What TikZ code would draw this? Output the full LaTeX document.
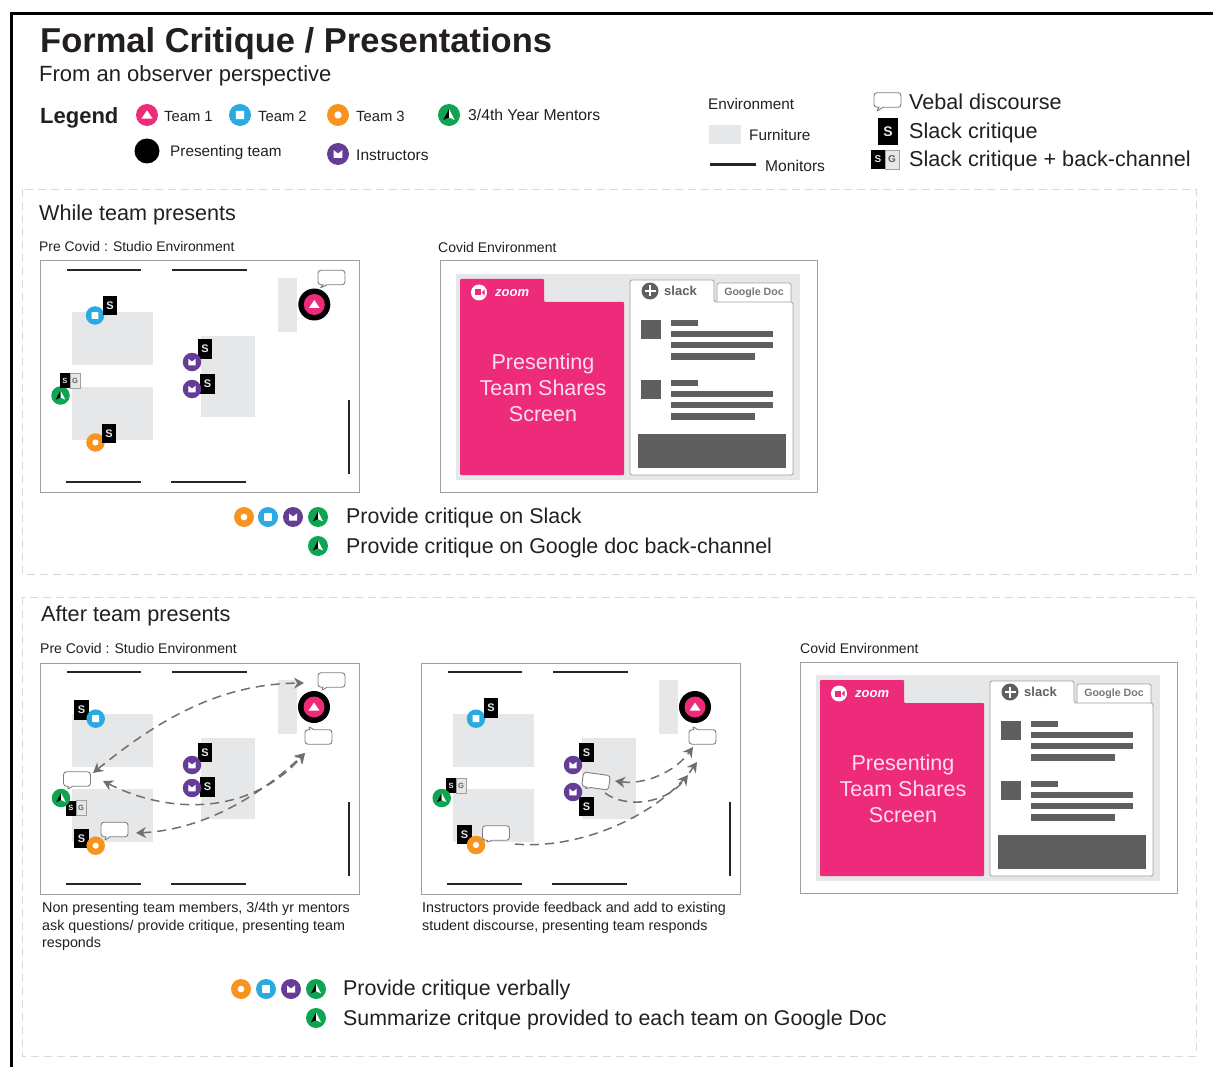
\documentclass[tikz,border=0pt]{standalone}
\usepackage{fontspec}
\setmainfont{Liberation Sans}
\usetikzlibrary{arrows.meta,shapes.callouts}
\definecolor{inkText}{HTML}{231F20}
\definecolor{zoomPink}{HTML}{EE2A7B}
\definecolor{teamBlue}{HTML}{29ABE2}
\definecolor{teamOrange}{HTML}{F7941D}
\definecolor{teamGreen}{HTML}{0DA550}
\definecolor{teamPurple}{HTML}{663D96}
\definecolor{furnGray}{HTML}{E6E7E8}
\definecolor{barGray}{HTML}{5F5F5F}
\definecolor{edgeGray}{HTML}{A0A0A0}
\tikzset{
	txt/.style={anchor=west, inner sep=0pt, text=inkText, font=\fontsize{#1}{#1}\selectfont},
	note/.style={anchor=north west, inner sep=0pt, text=inkText, align=left, font=\fontsize{14.3}{17.6}\selectfont},
	dot/.style={circle, inner sep=0pt, minimum size=#1},
	dot/.default=18pt,
	teamPink/.style={dot=#1, fill=zoomPink, path picture={\fill[white, shift={(path picture bounding box.center)}, x=#1/18, y=-#1/18] (-4.6,3) -- (4.6,3) -- (0,-3.8) -- cycle;}},
	teamPink/.default=18pt,
	teamSquare/.style={dot=#1, fill=teamBlue, path picture={\fill[white, rounded corners=0.5pt, shift={(path picture bounding box.center)}, x=#1/18, y=-#1/18] (-3.4,-3.4) rectangle (3.4,3.4);}},
	teamSquare/.default=18.5pt,
	teamRing/.style={dot=#1, fill=teamOrange, path picture={\fill[white, shift={(path picture bounding box.center)}] (0,0) circle (#1/6);}},
	teamRing/.default=18.5pt,
	teamCrown/.style={dot=#1, fill=teamPurple, path picture={\fill[white, shift={(path picture bounding box.center)}, x=#1/18, y=-#1/18] (-3.6,3.2) -- (3.6,3.2) -- (3.6,-3.2) -- (0,-0.4) -- (-3.6,-3.2) -- cycle;}},
	teamCrown/.default=18.5pt,
	teamArrow/.style={dot=#1, fill=teamGreen, path picture={\fill[black, shift={(path picture bounding box.center)}, x=#1/18, y=-#1/18] (0,-5) -- (-4.6,4) -- (0,2) -- cycle; \fill[white, shift={(path picture bounding box.center)}, x=#1/18, y=-#1/18] (0,-5) -- (4.6,4) -- (0,2) -- cycle;}},
	teamArrow/.default=18.5pt,
	presenter/.style={dot=#1, fill=black},
	slackBox/.style={inner sep=0pt, minimum width=14.5pt, minimum height=19.5pt, fill=black, text=furnGray, font=\bfseries\fontsize{11}{11}\selectfont},
	slackHalf/.style={inner sep=0pt, minimum width=10pt, minimum height=15pt, fill=black, text=furnGray, font=\bfseries\fontsize{7.5}{8}\selectfont},
	docHalf/.style={inner sep=0pt, minimum width=10pt, minimum height=15pt, fill=furnGray, draw=edgeGray, line width=0.5pt, text=barGray, font=\bfseries\fontsize{7.5}{8}\selectfont},
	bubble/.style={rectangle callout, draw=barGray!80, fill=white, line width=0.9pt, rounded corners=3pt, minimum width=27pt, minimum height=14.5pt, inner sep=0pt, callout pointer width=4pt},
	furniture/.style={fill=furnGray},
	monitor/.style={line width=2.8pt, color=black!85},
	roomEdge/.style={draw=edgeGray, line width=1pt},
	panel/.style={draw=black!15, line width=0.8pt, dash pattern=on 8pt off 5pt},
	talkLine/.style={-{Stealth[length=10pt, width=11pt]}, draw=barGray!90, line width=1.5pt, dash pattern=on 9pt off 6pt},
	talkBoth/.style={talkLine, {Stealth[length=10pt, width=11pt]}-{Stealth[length=10pt, width=11pt]}},
	bar/.style={fill=barGray}
}
\newcommand{\roomplan}[2]{
	\begin{scope}[shift={(#1,#2)}]
		\draw[roomEdge] (40,261) rectangle (359,492);
		\fill[furniture] (72,312) rectangle (153,365);
		\fill[furniture] (72,387) rectangle (153,440);
		\fill[furniture] (201,336) rectangle (255,417);
		\fill[furniture] (278,278) rectangle (297,332);
		\draw[monitor] (67,270) -- (141,270);
		\draw[monitor] (172,270) -- (247,270);
		\draw[monitor] (66,482) -- (141,482);
		\draw[monitor] (171,482) -- (246,482);
		\draw[monitor] (349,400) -- (349,474);
	\end{scope}
}
\newcommand{\screenview}[3]{
	\begin{scope}[shift={(#1,#2)}]
		\draw[roomEdge] (440,261) rectangle (817,492);
		\fill[furniture] (456,274) rectangle (800,480);
		\fill[zoomPink, rounded corners=1pt] (460,475) -- (460,279) -- (544,279) -- (544,302) -- (624,302) -- (624,475) -- cycle;
		\node[dot=16pt, fill=white] (#3zoomIcon) at (479,292.5) {};
		\fill[zoomPink] (474.5,289.5) rectangle (481,295.5);
		\fill[zoomPink] (481.5,292.5) -- (484.5,289.5) -- (484.5,295.5) -- cycle;
		\node[txt=13, anchor=west, text=white, font=\bfseries\itshape\fontsize{13}{13}\selectfont] (#3zoomName) at (495,293) {zoom};
		\node[anchor=center, inner sep=0pt, align=center, text=white!85!zoomPink, font=\fontsize{21.5}{26.3}\selectfont] (#3shareText) at (543,388) {Presenting\\Team Shares\\Screen};
		\draw[edgeGray, fill=white, line width=0.9pt, rounded corners=1.5pt] (717,310) -- (717,283) -- (791,283) -- (791,310);
		\node[anchor=center, inner sep=0pt, text=barGray!85, font=\bfseries\fontsize{10.6}{11}\selectfont] (#3docTab) at (754,293) {Google Doc};
		\draw[edgeGray, fill=white, line width=0.9pt, rounded corners=1.5pt] (630,475) -- (630,280) -- (714,280) -- (714,302) -- (793,302) -- (793,475) -- cycle;
		\node[dot=17pt, fill=barGray] (#3slackIcon) at (650,291) {};
		\fill[white] (648.7,285.5) rectangle (651.3,296.5);
		\fill[white] (644.5,289.7) rectangle (655.5,292.3);
		\node[txt=13, text=barGray, font=\bfseries\fontsize{13}{13}\selectfont] (#3slackName) at (664,291) {slack};
		\fill[bar] (641,320) rectangle (661,339);
		\fill[bar] (671,320) rectangle (698,326);
		\fill[bar] (671,331) rectangle (773,337);
		\fill[bar] (671,342) rectangle (773,348);
		\fill[bar] (671,353) rectangle (755,360);
		\fill[bar] (641,380) rectangle (661,399);
		\fill[bar] (671,380) rectangle (698,386);
		\fill[bar] (671,391) rectangle (773,397);
		\fill[bar] (671,402) rectangle (773,408);
		\fill[bar] (671,413) rectangle (755,420);
		\fill[bar] (638,434) rectangle (786,468);
	\end{scope}
}
\begin{document}
\begin{tikzpicture}[x=1pt, y=-1pt]
	\useasboundingbox (0,0) rectangle (1213,1067);
	\fill[white] (0,0) rectangle (1213,1067);
	\draw[black, line width=3pt] (11,1067) -- (11,14) -- (1213,14);
	\draw[panel] (22,189) rectangle (1196,574);
	\draw[panel] (22,597) rectangle (1196,1056);

	\node[txt=34.5, font=\bfseries\fontsize{34.5}{34.5}\selectfont] (titleText) at (40,44) {Formal Critique / Presentations};
	\node[txt=22] (subtitleText) at (39,76) {From an observer perspective};
	\node[txt=22, font=\bfseries\fontsize{22}{22}\selectfont] (legendText) at (40,118) {Legend};

	\node[teamPink=22pt] (legendPink) at (147,115) {};
	\node[txt=14.8] (legendPinkText) at (164,116) {Team 1};
	\node[teamSquare=22pt] (legendBlue) at (240,115) {};
	\node[txt=14.8] (legendBlueText) at (258,116) {Team 2};
	\node[teamRing=22pt] (legendOrange) at (338,115) {};
	\node[txt=14.8] (legendOrangeText) at (356,116) {Team 3};
	\node[teamArrow=22pt] (legendGreen) at (449,115) {};
	\node[txt=15.7] (legendGreenText) at (468,115) {3/4th Year Mentors};
	\node[presenter=25pt] (legendBlack) at (147,151) {};
	\node[txt=15.3] (legendBlackText) at (170,153) {Presenting team};
	\node[teamCrown=22pt] (legendPurple) at (338,154) {};
	\node[txt=15.5] (legendPurpleText) at (356,155) {Instructors};

	\node[txt=15.3] (envText) at (708,104) {Environment};
	\fill[furniture] (709,125) rectangle (741,144);
	\node[txt=15.3] (furnText) at (749,135) {Furniture};
	\draw[monitor, line width=3pt] (710,165) -- (756,165);
	\node[txt=15.6] (monitorText) at (765,166) {Monitors};

	\node[bubble, callout absolute pointer={(876,112)}] (legendBubble) at (887.5,100) {};
	\node[txt=21.6] (bubbleText) at (909,102) {Vebal discourse};
	\node[slackBox, minimum width=20pt, minimum height=27pt, font=\bfseries\fontsize{14}{14}\selectfont] (legendSlack) at (888,131.5) {S};
	\node[txt=21.6] (slackText) at (909,133) {Slack critique};
	\node[slackHalf, minimum width=14pt, minimum height=19pt, font=\bfseries\fontsize{10}{10}\selectfont] (legendS) at (878,159.5) {S};
	\node[docHalf, minimum width=14pt, minimum height=19pt, font=\bfseries\fontsize{10}{10}\selectfont] (legendG) at (892,159.5) {G};
	\node[txt=21.6] (pairText) at (909,161) {Slack critique + back-channel};

	\node[txt=21.6] (whileText) at (39,215) {While team presents};
	\node[txt=13.9] (preOneText) at (39,247) {Pre Covid : Studio Environment};
	\node[txt=14] (covidOneText) at (438,247) {Covid Environment};

	\roomplan{0}{0}
	\node[teamSquare] (blueOne) at (95,315.5) {};
	\node[slackBox] (slackBlueOne) at (110,305.5) {S};
	\node[teamRing] (orangeOne) at (95.5,442.5) {};
	\node[slackBox] (slackOrangeOne) at (109,433.5) {S};
	\node[teamArrow] (greenOne) at (60.5,395.5) {};
	\node[slackHalf] (sOne) at (65,380.5) {S};
	\node[docHalf] (gOne) at (75,380.5) {G};
	\node[slackBox] (slackPurpleA) at (205,349) {S};
	\node[teamCrown] (purpleA) at (192,362) {};
	\node[slackBox] (slackPurpleB) at (207.5,384) {S};
	\node[teamCrown] (purpleB) at (192,389) {};
	\node[presenter=32pt] (ringOne) at (314.3,304.5) {};
	\node[teamPink=21pt] (pinkOne) at (314.3,304.5) {};
	\node[bubble, callout absolute pointer={(319.5,288.5)}] (bubbleOne) at (331.5,277.5) {};

	\screenview{0}{0}{a}

	\node[teamRing=20pt] (orangeRowOne) at (244,517) {};
	\node[teamSquare=20pt] (blueRowOne) at (268,517) {};
	\node[teamCrown=20pt] (purpleRowOne) at (293,517) {};
	\node[teamArrow=20pt] (greenRowOne) at (318,517) {};
	\node[txt=21.4] (rowOneText) at (346,518) {Provide critique on Slack};
	\node[teamArrow=20pt] (greenRowTwo) at (318,546) {};
	\node[txt=21.4] (rowTwoText) at (346,548) {Provide critique on Google doc back-channel};

	\node[txt=21.7] (afterText) at (41,616) {After team presents};
	\node[txt=14] (preTwoText) at (40,648) {Pre Covid : Studio Environment};
	\node[txt=14] (covidTwoText) at (800,648) {Covid Environment};

	\roomplan{0}{402}
	\node[slackBox] (slackBlueTwo) at (81.5,710) {S};
	\node[teamSquare] (blueTwo) at (95.7,718.7) {};
	\node[slackBox] (slackOrangeTwo) at (81.5,838.5) {S};
	\node[teamRing] (orangeTwo) at (95.7,845.7) {};
	\node[slackHalf] (sTwo) at (71,808) {S};
	\node[docHalf] (gTwo) at (81,808) {G};
	\node[teamArrow] (greenTwo) at (61,798) {};
	\node[slackBox] (slackPurpleC) at (205,752.5) {S};
	\node[teamCrown] (purpleC) at (192,765) {};
	\node[slackBox] (slackPurpleD) at (207.5,787) {S};
	\node[teamCrown] (purpleD) at (192,788) {};
	\node[presenter=32pt] (ringTwo) at (314,707) {};
	\node[teamPink=21pt] (pinkTwo) at (314,707) {};
	\node[bubble, callout absolute pointer={(321,691)}] (bubbleTwoA) at (331.5,680) {};
	\node[bubble, callout absolute pointer={(308,726)}] (bubbleTwoB) at (318.5,737) {};
	\node[bubble, callout absolute pointer={(67,790)}] (bubbleTwoC) at (77,779) {};
	\node[bubble, callout absolute pointer={(104,841)}] (bubbleTwoD) at (114.5,829.5) {};

	\coordinate (endGreenTop) at (93,773);
	\coordinate (endPinkTop) at (304,683);
	\coordinate (endGreenLow) at (103,781);
	\coordinate (endPinkLow) at (305,753);
	\coordinate (endOrange) at (136,833);
	\draw[talkBoth] (endGreenTop) .. controls (165,714) and (225,684) .. (endPinkTop);
	\draw[talkBoth] (endGreenLow) .. controls (170,815) and (250,815) .. (endPinkLow);
	\draw[talkBoth] (endOrange) .. controls (200,830) and (255,800) .. (endPinkLow);

	\roomplan{381}{402}
	\node[teamSquare] (blueThree) at (476,718.7) {};
	\node[slackBox] (slackBlueThree) at (491,708) {S};
	\node[slackBox] (slackOrangeThree) at (464.5,834.5) {S};
	\node[teamRing] (orangeThree) at (476,845) {};
	\node[slackHalf] (sThree) at (451,785.5) {S};
	\node[docHalf] (gThree) at (461,785.5) {G};
	\node[teamArrow] (greenThree) at (441.7,798) {};
	\node[slackBox] (slackPurpleE) at (586.5,752.5) {S};
	\node[teamCrown] (purpleE) at (573,765) {};
	\node[slackBox] (slackPurpleF) at (586.5,806.5) {S};
	\node[teamCrown] (purpleF) at (573,792) {};
	\node[presenter=32pt] (ringThree) at (695,707) {};
	\node[teamPink=21pt] (pinkThree) at (695,707) {};
	\node[bubble, callout absolute pointer={(692,726)}] (bubbleThreeA) at (702.5,737) {};
	\node[bubble, rotate=-8, callout absolute pointer={(584,789)}] (bubbleThreeB) at (596,781) {};
	\node[bubble, callout absolute pointer={(486,843)}] (bubbleThreeC) at (496,833) {};

	\coordinate (endInstructor) at (615,781);
	\coordinate (endPinkA) at (693,747);
	\coordinate (startInstructor) at (605,793);
	\coordinate (endPinkB) at (688,775);
	\coordinate (startOrange) at (515,844);
	\coordinate (endPinkC) at (697,762);
	\draw[talkBoth] (endInstructor) .. controls (645,785) and (675,772) .. (endPinkA);
	\draw[talkLine] (startInstructor) .. controls (625,808) and (665,805) .. (endPinkB);
	\draw[talkLine] (startOrange) .. controls (580,850) and (660,815) .. (endPinkC);

	\screenview{360}{401}{b}

	\node[note] (noteLeft) at (42,902) {Non presenting team members, 3/4th yr mentors\\ask questions/ provide critique, presenting team\\responds};
	\node[note] (noteMid) at (422,902) {Instructors provide feedback and add to existing\\student discourse, presenting team responds};

	\node[teamRing=20pt] (orangeRowThree) at (241,989) {};
	\node[teamSquare=20pt] (blueRowThree) at (266,989) {};
	\node[teamCrown=20pt] (purpleRowThree) at (291,989) {};
	\node[teamArrow=20pt] (greenRowThree) at (316,989) {};
	\node[txt=21.4] (rowThreeText) at (343,990) {Provide critique verbally};
	\node[teamArrow=20pt] (greenRowFour) at (316,1018) {};
	\node[txt=21.35] (rowFourText) at (343,1020) {Summarize critque provided to each team on Google Doc};
\end{tikzpicture}
\end{document}
